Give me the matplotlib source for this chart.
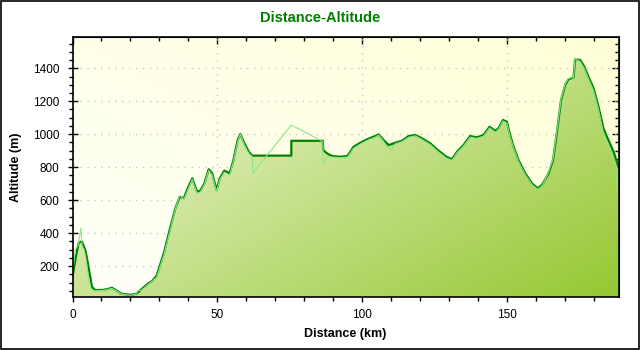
import numpy as np
import matplotlib
matplotlib.use("Agg")
import matplotlib.pyplot as plt
from matplotlib.colors import to_rgb
from matplotlib.patches import Rectangle

plt.rcParams['font.family'] = ['Liberation Sans', 'DejaVu Sans']

# ------------------ DATA ------------------

# corrected profile (dark line)
dist_km = [0, 0.3, 1.2, 2.1, 3.2, 4.4, 4.9, 5.7, 6.7, 7.8, 10.5, 12.5, 13.6,
           15.3, 17.0, 20.0, 21.7, 22.8, 24.5, 26.2, 27.5, 29.0, 31.5, 33.8,
           35.5, 37.0, 38.4, 39.5, 41.3, 43.0, 44.1, 45.5, 47.0, 48.2, 49.7,
           50.8, 52.4, 54.2, 55.4, 57.0, 57.9, 59.3, 60.8, 62.0, 75.5, 75.5,
           86.4, 86.5, 87.8, 89.5, 92.4, 94.9, 97.0, 99.3, 101.6, 104.5,
           105.6, 107.3, 109.1, 111.4, 113.7, 116.0, 118.3, 120.6, 123.4,
           126.3, 129.0, 130.9, 132.7, 134.9, 137.2, 139.6, 141.8, 143.9,
           145.9, 147.0, 148.5, 149.9, 151.0, 152.2, 153.9, 156.2, 158.5,
           160.5, 162.0, 164.3, 165.8, 167.1, 168.6, 170.0, 171.1, 172.9,
           173.4, 175.2, 176.6, 178.0, 179.8, 181.5, 183.2, 184.9, 186.7,
           188.4]
alt_m = [140, 165, 260, 340, 350, 297, 256, 176, 74, 54, 55, 62, 68,
         50, 32, 25, 30, 44, 70, 95, 110, 140, 277, 438,
         550, 621, 611, 661, 732, 651, 657, 702, 787, 763, 661,
         732, 779, 763, 833, 965, 1001, 945, 894, 870, 870, 960,
         960, 904, 884, 868, 863, 868, 924, 948, 969, 989,
         999, 965, 934, 948, 960, 989, 995, 975, 945,
         900, 863, 848, 894, 934, 989, 981, 995, 1045,
         1020, 1036, 1086, 1076, 995, 924, 843, 763, 702,
         672, 692, 763, 843, 1005, 1208, 1299, 1333, 1345,
         1455, 1450, 1410, 1349, 1279, 1167, 1036, 965, 894,
         803]

# raw GPS profile (light line)
raw_km = [0, 0.3, 1.0, 2.0, 2.9, 3.3, 4.0, 4.6, 5.4, 6.4, 7.5, 10.5, 12.5,
          13.6, 15.3, 17.0, 20.0, 21.7, 22.8, 23.5, 26.2, 29.0, 31.5, 33.8,
          35.5, 37.0, 38.4, 39.5, 41.3, 43.0, 44.1, 45.5, 47.0, 48.2, 49.7,
          50.8, 52.4, 54.2, 55.4, 57.0, 57.9, 59.3, 60.8, 62.0, 62.2, 75.5,
          86.4, 86.5, 87.8, 89.5, 92.4, 94.9, 97.0, 99.3, 101.6, 104.5,
          105.6, 107.3, 108.6, 109.7, 110.6, 111.4, 113.7, 116.0, 118.3,
          120.6, 123.4, 126.3, 129.0, 130.9, 132.7, 134.9, 137.2, 139.6,
          141.8, 143.9, 145.9, 147.0, 148.5, 149.9, 151.0, 152.2, 153.9,
          156.2, 158.5, 160.5, 162.0, 164.3, 165.8, 167.1, 168.6, 170.0,
          171.1, 172.9, 173.4, 175.2, 176.6, 178.0, 179.8, 181.5, 183.2,
          184.9, 186.3, 187.4, 188.4]
raw_alt = [140, 200, 300, 330, 430, 320, 300, 250, 150, 60, 50, 52, 60,
           64, 48, 30, 22, 28, 55, 50, 90, 130, 265, 425,
           545, 630, 605, 650, 725, 640, 650, 695, 780, 752, 650,
           725, 770, 752, 825, 955, 1000, 935, 885, 865, 763, 1056,
           955, 823, 863, 862, 858, 862, 915, 940, 962, 982,
           995, 958, 920, 904, 925, 942, 955, 982, 990,
           968, 938, 892, 855, 842, 888, 928, 982, 975,
           988, 1038, 1012, 1030, 1080, 1068, 985, 915, 835,
           755, 695, 665, 685, 770, 850, 1015, 1215, 1305,
           1338, 1345, 1462, 1440, 1400, 1338, 1265, 1150, 1010,
           940, 880, 790, 630]

x_ticks = [0, 50, 100, 150]
y_ticks = [200, 400, 600, 800, 1000, 1200, 1400]
x_lim = (0, 188.4)
y_lim = (12, 1590)

# ------------------ FIGURE ------------------

fig = plt.figure(figsize=(6.4, 3.5), dpi=100)
fig.patch.set_facecolor('white')
fig.patches.append(Rectangle((0.0015, 0.003), 0.997, 0.994, transform=fig.transFigure,
                             fill=False, edgecolor='black', linewidth=1.2))

ax = fig.add_axes([72.5 / 640, 53 / 350, 546 / 640, 260 / 350])
ax.set_xlim(*x_lim)
ax.set_ylim(*y_lim)


def gradient(c0, c1, wx, wy, n=200):
    # linear diagonal blend between two colours over the plot area
    xs = np.linspace(0, 1, n)
    ys = np.linspace(0, 1, n)
    X, Y = np.meshgrid(xs, ys)  # Y=0 at top row
    t = np.clip(wx * X + wy * Y + (0 if wy >= 0 else -wy), 0, 1)
    a, b = np.array(to_rgb(c0)), np.array(to_rgb(c1))
    return a + (b - a) * t[..., None]


ext = [x_lim[0], x_lim[1], y_lim[0], y_lim[1]]

# background: near white at bottom-left, light yellow at top-right
bg = gradient('#FFFFFA', '#FFFFD6', 0.55, -0.45)
ax.imshow(bg, extent=ext, aspect='auto', origin='upper', zorder=0,
          interpolation='bilinear')

ax.grid(True, which='major', color='#C4C8D4', linestyle=(0, (1, 4)), linewidth=1.0)
ax.set_axisbelow(True)

# fill under the corrected profile with a diagonal green gradient
poly = ax.fill_between(dist_km, alt_m, y_lim[0], facecolor='none', edgecolor='none')
fg = gradient('#F8FAE6', '#94C832', 0.55, 0.45)
im = ax.imshow(fg, extent=ext, aspect='auto', origin='upper', zorder=1,
               interpolation='bilinear')
im.set_clip_path(poly.get_paths()[0], transform=ax.transData)

ax.plot(dist_km, alt_m, color='#008000', linewidth=1.6, zorder=3)
ax.plot(raw_km, raw_alt, color='#8AE68A', linewidth=0.8, zorder=4)

# ------------------ AXES STYLE ------------------

ax.set_xticks(x_ticks)
ax.set_yticks(y_ticks)
ax.set_xticks(np.arange(0, 189, 10), minor=True)
ax.set_yticks(np.arange(50, 1590, 50), minor=True)
ax.tick_params(which='major', direction='inout', length=7, width=1, labelsize=8.5,
               colors='black')
ax.tick_params(which='minor', direction='out', length=3, width=1)
ax.tick_params(axis='y', which='major', pad=6)
ax.tick_params(axis='x', which='major', pad=5)
for s in ax.spines.values():
    s.set_linewidth(1.2)
    s.set_zorder(6)

top = ax.secondary_xaxis('top')
top.set_xticks(x_ticks, labels=[])
top.set_xticks(np.arange(0, 189, 10), minor=True)
top.tick_params(which='major', direction='in', length=5, width=1)
top.tick_params(which='minor', direction='in', length=3, width=1)

right = ax.secondary_yaxis('right')
right.set_yticks(y_ticks, labels=[])
right.set_yticks(np.arange(50, 1590, 50), minor=True)
right.tick_params(which='major', direction='in', length=5, width=1)
right.tick_params(which='minor', direction='in', length=3, width=1)

ax.set_xlabel('Distance (km)', fontsize=9, fontweight='bold', labelpad=5)
ax.set_ylabel('Altitude (m)', fontsize=9, fontweight='bold', labelpad=8)
fig.text(0.5, 1 - 18 / 350, 'Distance-Altitude', ha='center', va='center',
         fontsize=10.5, fontweight='bold', color='#008000')

fig.savefig('out.png', dpi=100)
